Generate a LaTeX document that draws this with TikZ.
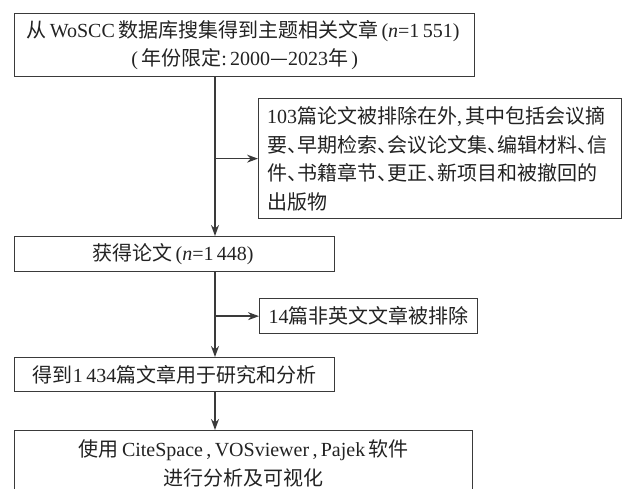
\documentclass[tikz,border=0pt]{standalone}
\usepackage{fontspec}
\setmainfont{Liberation Serif}
\newfontfamily\cjk{Noto Sans CJK SC}
\usetikzlibrary{arrows.meta,calc}
\definecolor{ln}{HTML}{3A3A3A}
\definecolor{tx}{HTML}{222222}
\newcommand\lt[1]{{\rmfamily #1}}
\newcommand\dun{\makebox[0.5em][l]{、}}
\begin{document}
\begin{tikzpicture}[x=1pt,y=-1pt,
  box/.style={draw=ln, line width=1.3pt, inner sep=0pt, anchor=north west, text=tx,
    font=\cjk\fontsize{20}{28.5}\selectfont, align=center},
  arr/.style={draw=ln, line width=1.3pt, -{Stealth[length=11pt,width=8pt]}}]
\useasboundingbox (0,0) rectangle (622,489);
\node[box, minimum width=460pt, minimum height=63pt] (b1) at (14,13)
  {从\lt{\,WoSCC\,}数据库搜集得到主题相关文章\lt{\,(\textit{n}=1\,551)\,}\\\lt{(\,}年份限定\lt{:\,2000}—\lt{2023}年\lt{\,)}};
\node[box, minimum width=363pt, minimum height=120pt, text width=346pt, align=left] (b2) at (258,98)
  {\lt{103}篇论文被排除在外\lt{,\,}其中包括会议摘\\要\dun 早期检索\dun 会议论文集\dun 编辑材料\dun 信\\件\dun 书籍章节\dun 更正\dun 新项目和被撤回的\\出版物};
\node[box, minimum width=320pt, minimum height=35pt] (b3) at (14,236)
  {获得论文\lt{\,(\textit{n}=1\,448)\,}};
\node[box, minimum width=218pt, minimum height=35pt] (b4) at (259,298)
  {\lt{14}篇非英文文章被排除};
\node[box, minimum width=320pt, minimum height=34pt] (b5) at (14,357)
  {得到\lt{1\,434}篇文章用于研究和分析};
\node[box, minimum width=458pt, minimum height=66pt] (b6) at (14,430)
  {使用\lt{\,CiteSpace\,,\,VOSviewer\,,\,Pajek\,}软件\\进行分析及可视化};
\coordinate (t) at (215,0);
\draw[arr] (b1.south -| t) -- (b3.north -| t);
\draw[arr] (b2.west -| t) -- (b2.west);
\draw[arr] (b3.south -| t) -- (b5.north -| t);
\draw[arr] (b4.west -| t) -- (b4.west);
\draw[arr] (b5.south -| t) -- (b6.north -| t);
\end{tikzpicture}
\end{document}
